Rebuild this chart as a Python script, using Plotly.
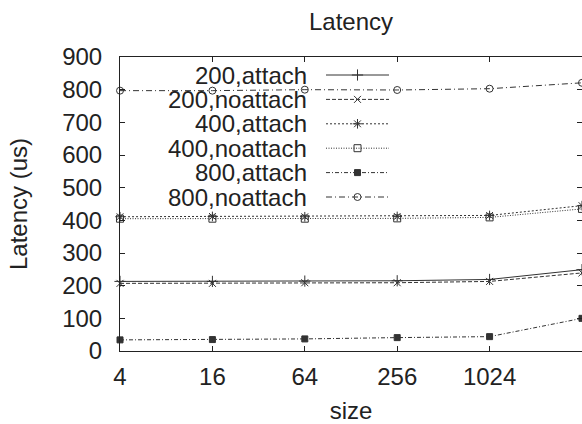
import numpy as np
import plotly.graph_objects as go

# ---- data ----
sizes = [4, 16, 64, 256, 1024, 4096]
attach_200 = [213, 213, 214, 215, 219, 249]
noattach_200 = [207, 207, 209, 209, 213, 239]
attach_400 = [411, 412, 411, 412, 415, 445]
noattach_400 = [405, 405, 405, 406, 409, 435]
attach_800 = [34, 35, 37, 41, 44, 100]
noattach_800 = [797, 797, 800, 799, 803, 821]

series_names = ["200,attach", "200,noattach", "400,attach",
                "400,noattach", "800,attach", "800,noattach"]
series_values = [attach_200, noattach_200, attach_400,
                 noattach_400, attach_800, noattach_800]
x_tick_vals = [4, 16, 64, 256, 1024]
x_tick_text = ["4", "16", "64", "256", "1024"]
y_tick_vals = [0, 100, 200, 300, 400, 500, 600, 700, 800, 900]

# ---- styles ----
INK = "#222222"
LINE = "#333333"
FONT = "Liberation Sans, Arial, sans-serif"
FS = 24
styles = [
    dict(dash="solid", symbol="cross-thin-open", size=8),
    dict(dash="4px,2px", symbol="x-thin-open", size=7),
    dict(dash="2px,2px", symbol="asterisk-open", size=8),
    dict(dash="1px,1.5px", symbol="square-open", size=7),
    dict(dash="4px,2px,1px,2px", symbol="square", size=6),
    dict(dash="6px,3px,1px,3px", symbol="circle-open", size=7),
]

W, H = 582, 424
px_left, px_right = 120, 582     # plot area in pixels
px_top, px_bot = 57, 351
L, T = px_left, px_top
R, B = W - px_right, H - px_bot

fig = go.Figure()
for name, vals, st in zip(series_names, series_values, styles):
    fig.add_trace(go.Scatter(
        x=sizes, y=vals, mode="lines+markers", name=name, showlegend=False,
        line=dict(color=LINE, width=1, dash=st["dash"]),
        marker=dict(symbol=st["symbol"], size=st["size"], color=LINE,
                    line=dict(color=LINE, width=1)),
        cliponaxis=False,
    ))

# ---- gnuplot-style key (text left, sample right) on a pixel overlay axis ----
key_text_right = 309
key_x0, key_x1 = 326, 389
key_y0, key_dy = 75, 24.4
annotations = []
for i, (name, st) in enumerate(zip(series_names, styles)):
    yy = key_y0 + i * key_dy
    fig.add_trace(go.Scatter(
        x=[key_x0, key_x1], y=[yy, yy], mode="lines", xaxis="x2", yaxis="y2",
        showlegend=False, hoverinfo="skip",
        line=dict(color=LINE, width=1, dash=st["dash"])))
    fig.add_trace(go.Scatter(
        x=[(key_x0 + key_x1) / 2], y=[yy], mode="markers", xaxis="x2", yaxis="y2",
        showlegend=False, hoverinfo="skip",
        marker=dict(symbol=st["symbol"], size=st["size"], color=LINE,
                    line=dict(color=LINE, width=1))))
    annotations.append(dict(
        x=key_text_right, y=yy, xref="x2", yref="y2", text=name,
        showarrow=False, xanchor="right", yanchor="middle", height=23,
        font=dict(family=FONT, size=FS, color=INK)))

axis_common = dict(
    showline=True, linecolor=INK, linewidth=1, mirror="ticks",
    ticks="inside", ticklen=5, tickcolor=INK, tickwidth=1,
    showgrid=False, zeroline=False, automargin=False,
    tickfont=dict(family=FONT, size=FS, color=INK),
)

eps = 1e-4
fig.update_layout(
    template="none",
    width=W, height=H,
    margin=dict(l=L, r=R, t=T, b=B, pad=0, autoexpand=False),
    paper_bgcolor="white", plot_bgcolor="white",
    font=dict(family=FONT, size=FS, color=INK),
    title=dict(text="Latency", x=(px_left + px_right) / 2 / W,
               xanchor="center", y=1 - 22 / H, yanchor="middle",
               yref="container",
               font=dict(family=FONT, size=FS, color=INK)),
    xaxis=dict(type="log", range=[np.log10(4) - eps, np.log10(4096) + eps],
               tickvals=x_tick_vals, ticktext=x_tick_text,
               title=dict(text="size", standoff=18,
                          font=dict(family=FONT, size=FS, color=INK)),
               ticklabelstandoff=4,
               **axis_common),
    yaxis=dict(range=[0, 900], tickvals=y_tick_vals,
               title=dict(text="Latency (us)", standoff=27,
                          font=dict(family=FONT, size=FS, color=INK)),
               ticklabelstandoff=12,
               **axis_common),
    xaxis2=dict(overlaying="x", range=[px_left, px_right], visible=False,
                anchor="y2", fixedrange=True, automargin=False),
    yaxis2=dict(overlaying="y", range=[px_bot, px_top], visible=False,
                anchor="x2", fixedrange=True, automargin=False),
    annotations=annotations,
    showlegend=False,
)

fig.write_html(
    "out.html",
    config={"displayModeBar": False},
    post_script="document.body.style.margin='0px';"
                "document.body.style.overflow='hidden';",
)
